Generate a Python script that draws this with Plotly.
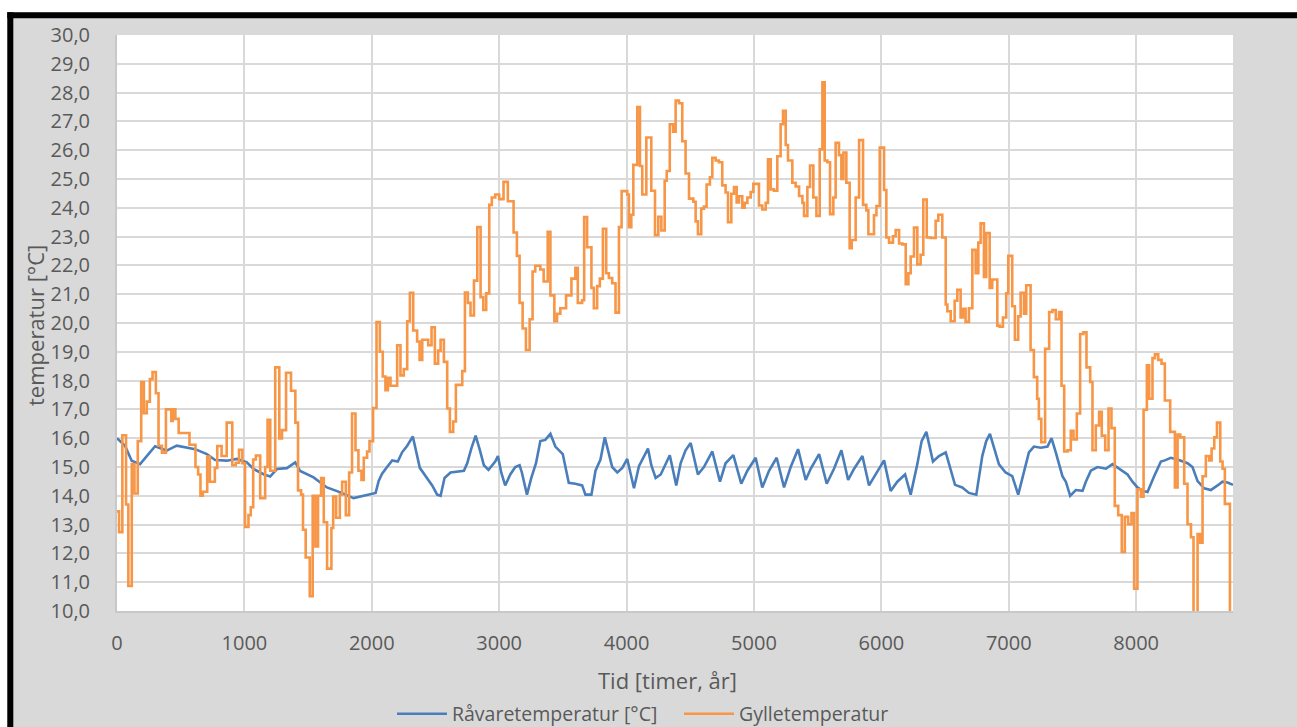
import plotly.graph_objects as go

# ---------------- data ----------------
# Gylletemperatur: step series (hour where a new level starts, level in °C)
gylle_hours = [0, 16, 42, 71, 89, 116, 137, 163, 190, 211, 234, 258, 279, 305, 326, 353, 384, 426, 437, 458,
               484, 569, 616, 637, 655, 674, 708, 729, 768, 787, 821, 861, 905, 932, 958, 984, 1005, 1032, 1050, 1069,
               1090, 1124, 1163, 1182, 1203, 1242, 1274, 1295, 1327, 1366, 1400, 1421, 1445, 1460, 1481, 1513, 1536, 1557, 1578, 1602,
               1623, 1649, 1683, 1697, 1720, 1749, 1767, 1796, 1822, 1845, 1872, 1895, 1919, 1937, 1963, 1982, 2010, 2037, 2063, 2086,
               2107, 2126, 2147, 2199, 2225, 2251, 2278, 2299, 2325, 2356, 2375, 2396, 2443, 2469, 2495, 2521, 2540, 2566, 2592, 2613,
               2639, 2660, 2710, 2731, 2754, 2775, 2802, 2828, 2854, 2875, 2898, 2922, 2942, 2969, 3000, 3034, 3068, 3113, 3139, 3160,
               3184, 3210, 3239, 3262, 3283, 3323, 3349, 3381, 3402, 3433, 3454, 3480, 3525, 3567, 3598, 3617, 3651, 3667, 3690, 3724,
               3743, 3769, 3790, 3814, 3840, 3861, 3887, 3913, 3940, 3961, 4005, 4018, 4037, 4053, 4084, 4105, 4123, 4155, 4194, 4223,
               4249, 4273, 4299, 4315, 4339, 4365, 4385, 4411, 4437, 4463, 4490, 4524, 4542, 4560, 4586, 4607, 4628, 4654, 4673, 4699,
               4725, 4751, 4777, 4796, 4822, 4843, 4864, 4882, 4908, 4927, 4948, 4974, 4995, 5039, 5065, 5092, 5110, 5131, 5157, 5183,
               5209, 5228, 5249, 5267, 5301, 5327, 5354, 5380, 5393, 5419, 5440, 5466, 5490, 5516, 5537, 5555, 5576, 5597, 5623, 5641,
               5667, 5686, 5702, 5725, 5751, 5767, 5798, 5825, 5856, 5882, 5898, 5942, 5961, 5987, 6021, 6039, 6060, 6091, 6112, 6139,
               6165, 6191, 6212, 6230, 6256, 6282, 6308, 6329, 6356, 6387, 6426, 6447, 6478, 6505, 6518, 6544, 6575, 6596, 6622, 6640,
               6661, 6687, 6714, 6740, 6761, 6779, 6805, 6823, 6850, 6870, 6910, 6928, 6954, 6980, 6996, 7027, 7048, 7074, 7093, 7119,
               7137, 7171, 7197, 7223, 7236, 7255, 7285, 7317, 7343, 7369, 7395, 7414, 7435, 7461, 7487, 7508, 7534, 7560, 7586, 7610,
               7639, 7657, 7683, 7709, 7730, 7757, 7783, 7806, 7832, 7859, 7887, 7911, 7937, 7963, 7984, 8010, 8037, 8058, 8084, 8102,
               8128, 8147, 8173, 8199, 8225, 8267, 8304, 8325, 8346, 8377, 8403, 8430, 8450, 8482, 8503, 8521, 8547, 8573, 8592, 8613,
               8634, 8660, 8678, 8696, 8736, 8760]
gylle_temp = [13.46, 12.74, 16.1, 13.7, 10.87, 15.1, 14.08, 15.9, 17.95, 16.87, 17.27, 18.05, 18.3, 17.56, 15.74, 15.5, 17.0, 16.6, 17.0, 16.67,
              16.18, 15.77, 15.0, 14.74, 14.0, 14.14, 15.36, 14.49, 14.97, 15.73, 15.38, 16.54, 15.06, 15.15, 15.6, 15.13, 12.92, 13.33, 13.6, 15.26,
              15.4, 13.92, 15.0, 16.64, 14.87, 18.46, 15.99, 16.28, 18.27, 17.65, 16.54, 14.19, 14.04, 12.82, 11.86, 10.51, 14.0, 12.24, 14.0, 14.62,
              13.08, 11.47, 12.88, 13.97, 13.24, 14.04, 14.49, 13.33, 14.81, 16.86, 15.58, 14.87, 14.55, 15.32, 15.54, 15.9, 17.05, 20.03, 19.0, 18.14,
              17.67, 18.1, 17.82, 19.23, 18.18, 18.4, 20.06, 21.05, 19.74, 19.36, 18.72, 19.42, 19.23, 19.85, 18.59, 19.04, 19.42, 18.65, 17.03, 16.22,
              16.58, 17.85, 18.33, 21.06, 20.7, 20.26, 21.47, 23.33, 20.9, 20.45, 21.03, 24.1, 24.36, 24.46, 24.3, 24.9, 24.23, 23.14, 22.33, 20.7,
              19.81, 19.06, 20.13, 21.79, 21.99, 21.86, 21.44, 23.17, 20.96, 20.06, 20.32, 20.51, 20.96, 21.54, 21.92, 20.7, 20.79, 23.68, 22.63, 21.22,
              20.51, 21.28, 21.54, 23.27, 21.73, 21.56, 21.38, 20.36, 23.33, 24.58, 24.46, 23.33, 23.76, 25.49, 27.5, 25.45, 24.46, 26.44, 24.59, 23.05,
              23.69, 23.21, 24.94, 25.28, 26.9, 26.64, 27.72, 27.63, 26.31, 25.19, 24.32, 24.21, 23.53, 23.08, 23.97, 24.04, 24.81, 25.06, 25.74, 25.64,
              25.58, 24.78, 24.53, 23.5, 24.49, 24.72, 24.19, 24.4, 24.0, 24.17, 24.36, 24.55, 24.83, 24.08, 23.94, 24.17, 25.68, 24.64, 24.59, 25.79,
              26.9, 27.37, 26.18, 25.64, 24.87, 24.74, 24.41, 24.17, 23.72, 24.72, 25.47, 24.36, 23.72, 26.03, 28.36, 25.64, 25.58, 23.78, 24.36, 26.26,
              25.83, 25.0, 25.92, 24.87, 22.6, 22.88, 24.36, 26.35, 24.1, 23.91, 23.08, 23.74, 24.06, 26.09, 24.62, 22.97, 22.79, 23.01, 23.23, 22.76,
              22.73, 21.35, 21.73, 22.31, 23.31, 22.03, 22.37, 24.29, 22.97, 22.95, 23.55, 23.76, 22.97, 20.64, 20.41, 20.06, 20.77, 21.15, 20.19, 20.49,
              20.04, 20.51, 22.54, 21.73, 22.79, 23.46, 21.6, 23.12, 21.22, 21.51, 19.91, 19.87, 20.19, 21.03, 22.33, 20.58, 19.42, 20.23, 21.05, 20.32,
              21.31, 19.06, 18.12, 17.37, 16.67, 15.86, 19.1, 20.38, 20.45, 20.13, 20.38, 17.82, 15.54, 15.58, 16.26, 15.96, 16.86, 19.62, 19.68, 18.46,
              17.95, 15.58, 16.44, 16.92, 16.09, 15.58, 17.03, 16.35, 13.65, 13.33, 12.05, 13.27, 13.01, 13.4, 10.77, 14.23, 13.97, 16.99, 18.53, 17.37,
              18.78, 18.91, 18.72, 18.59, 17.31, 16.22, 14.29, 16.13, 16.03, 14.42, 13.01, 12.56, 9.8, 12.67, 12.37, 14.68, 15.38, 15.23, 15.64, 16.03,
              16.54, 15.19, 14.94, 13.72, 9.8, 9.8]

# Råvaretemperatur: vertices (hour, °C)
raavare_hours = [0, 63, 115, 181, 299, 390, 469, 613, 705, 770, 862, 941, 1019, 1072, 1150, 1202, 1255, 1334, 1399, 1438,
                 1543, 1595, 1648, 1753, 1857, 1936, 2030, 2054, 2081, 2120, 2160, 2204, 2238, 2278, 2322, 2377, 2422, 2474, 2513, 2540,
                 2571, 2618, 2723, 2749, 2781, 2815, 2849, 2880, 2916, 2948, 2969, 2990, 3016, 3047, 3087, 3126, 3160, 3178, 3218, 3252,
                 3289, 3323, 3362, 3402, 3441, 3499, 3546, 3598, 3651, 3677, 3724, 3756, 3795, 3829, 3887, 3927, 3966, 4005, 4058, 4097,
                 4129, 4168, 4194, 4228, 4268, 4307, 4339, 4390, 4424, 4463, 4503, 4560, 4607, 4673, 4733, 4777, 4838, 4900, 4948, 5013,
                 5065, 5118, 5178, 5236, 5288, 5346, 5406, 5445, 5511, 5571, 5628, 5686, 5739, 5786, 5851, 5903, 5956, 6021, 6073, 6125,
                 6186, 6230, 6282, 6316, 6353, 6405, 6452, 6505, 6578, 6635, 6687, 6745, 6792, 6823, 6852, 6923, 6975, 7027, 7074, 7119,
                 7158, 7197, 7251, 7304, 7335, 7369, 7421, 7448, 7482, 7526, 7579, 7605, 7644, 7696, 7762, 7814, 7866, 7932, 7971, 8010,
                 8050, 8089, 8141, 8194, 8225, 8272, 8325, 8403, 8442, 8482, 8534, 8586, 8639, 8678, 8717, 8760]
raavare_temp = [16.0, 15.74, 15.22, 15.1, 15.72, 15.57, 15.74, 15.62, 15.45, 15.24, 15.22, 15.28, 15.16, 14.93, 14.75, 14.67, 14.93, 14.96, 15.16, 14.86,
                14.64, 14.46, 14.29, 14.12, 13.92, 14.0, 14.1, 14.52, 14.77, 15.0, 15.23, 15.19, 15.51, 15.74, 16.06, 14.97, 14.68, 14.36, 14.04, 14.0,
                14.62, 14.81, 14.87, 15.13, 15.64, 16.09, 15.58, 15.06, 14.9, 15.06, 15.19, 15.38, 14.81, 14.36, 14.74, 15.0, 15.06, 14.81, 14.04, 14.62,
                15.13, 15.9, 15.94, 16.15, 15.71, 15.45, 14.45, 14.42, 14.36, 14.04, 14.04, 14.87, 15.26, 16.03, 15.0, 14.81, 14.97, 15.28, 14.26, 15.03,
                15.32, 15.64, 15.06, 14.62, 14.74, 15.13, 15.41, 14.36, 15.13, 15.58, 15.83, 14.74, 15.0, 15.54, 14.49, 15.13, 15.41, 14.42, 14.87, 15.32,
                14.29, 14.87, 15.32, 14.29, 15.0, 15.62, 14.55, 14.94, 15.45, 14.42, 14.94, 15.58, 14.55, 14.94, 15.38, 14.36, 14.74, 15.23, 14.17, 14.49,
                14.74, 14.04, 15.1, 15.9, 16.22, 15.19, 15.38, 15.51, 14.38, 14.29, 14.1, 14.04, 15.38, 15.9, 16.15, 15.09, 14.81, 14.68, 14.04, 14.81,
                15.51, 15.71, 15.67, 15.71, 16.0, 15.51, 14.68, 14.49, 14.0, 14.2, 14.17, 14.49, 14.87, 15.0, 14.94, 15.1, 14.94, 14.74, 14.49, 14.29,
                14.17, 14.13, 14.68, 15.19, 15.23, 15.32, 15.26, 15.13, 15.0, 14.51, 14.26, 14.2, 14.36, 14.49, 14.46, 14.38]

series_names = ["Råvaretemperatur [°C]", "Gylletemperatur"]
x_title = "Tid [timer, år]"
y_title = "temperatur [°C]"

# ---------------- figure ----------------
FONT = "Open Sans, Liberation Sans, sans-serif"
TXT = "#595959"
BLUE = "#4A7EBB"
ORANGE = "#F79646"
GRAY_BG = "#D9D9D9"

fig = go.Figure()
fig.add_trace(go.Scatter(x=raavare_hours, y=raavare_temp, mode="lines", name=series_names[0],
                         line=dict(color=BLUE, width=2.6)))
fig.add_trace(go.Scatter(x=gylle_hours, y=gylle_temp, mode="lines", name=series_names[1],
                         line=dict(color=ORANGE, width=2.6, shape="hv")))

W, H = 1297, 727
L, R, T, B = 117, 64, 35, 116
pw, ph = W - L - R, H - T - B


def px_x(p):
    return (p - L) / pw


def px_y(p):
    return (H - B - p) / ph


def rect(x0, y0, x1, y1, color):
    return dict(type="rect", xref="paper", yref="paper", layer="above",
                x0=px_x(x0), x1=px_x(x1), y0=px_y(y1), y1=px_y(y0),
                line=dict(width=0), fillcolor=color)


fig.update_layout(
    width=W, height=H,
    margin=dict(l=L, r=R, t=T, b=B, autoexpand=False),
    paper_bgcolor=GRAY_BG,
    plot_bgcolor="white",
    separators=", ",
    font=dict(family=FONT, size=19, color=TXT),
    showlegend=True,
    legend=dict(orientation="h", x=px_x(392), xanchor="left", y=px_y(714), yanchor="middle",
                bgcolor="rgba(0,0,0,0)", font=dict(size=19.5, color=TXT), itemwidth=50,
                entrywidthmode="pixels", entrywidth=222, tracegroupgap=0),
    shapes=[
        rect(0, 0, W, 12.3, "white"),      # outer white strip (top)
        rect(0, 0, 7.3, H, "white"),       # outer white strip (left)
        rect(7.3, 12.3, W, 18.3, "black"),  # black frame (top)
        rect(7.3, 12.3, 13.3, H, "black"),  # black frame (left)
    ],
    annotations=[
        dict(text=x_title, xref="paper", yref="paper", x=px_x(667), y=px_y(680),
             showarrow=False, xanchor="center", yanchor="middle", font=dict(size=22, color=TXT)),
        dict(text=y_title, xref="paper", yref="paper", x=px_x(35), y=px_y(326),
             showarrow=False, xanchor="center", yanchor="middle", textangle=-90,
             font=dict(size=22, color=TXT)),
    ],
)

fig.update_xaxes(range=[0, 8760], dtick=1000, tick0=0, tickformat="d",
                 showgrid=True, gridcolor="#D9D9D9", gridwidth=1.5,
                 zeroline=False, showline=True, linecolor="#C8C8C8", linewidth=2,
                 ticks="", ticklabelstandoff=13,
                 tickfont=dict(size=20, color=TXT))
fig.update_yaxes(range=[10, 30], dtick=1, tick0=10, tickformat=".1f",
                 showgrid=True, gridcolor="#D9D9D9", gridwidth=1.5,
                 zeroline=False, showline=True, linecolor="#C8C8C8", linewidth=2,
                 ticks="", ticklabelstandoff=21,
                 tickfont=dict(size=20, color=TXT))

fig.write_html("out.html", config={"displayModeBar": False},
               post_script="document.body.style.margin='0px';")
